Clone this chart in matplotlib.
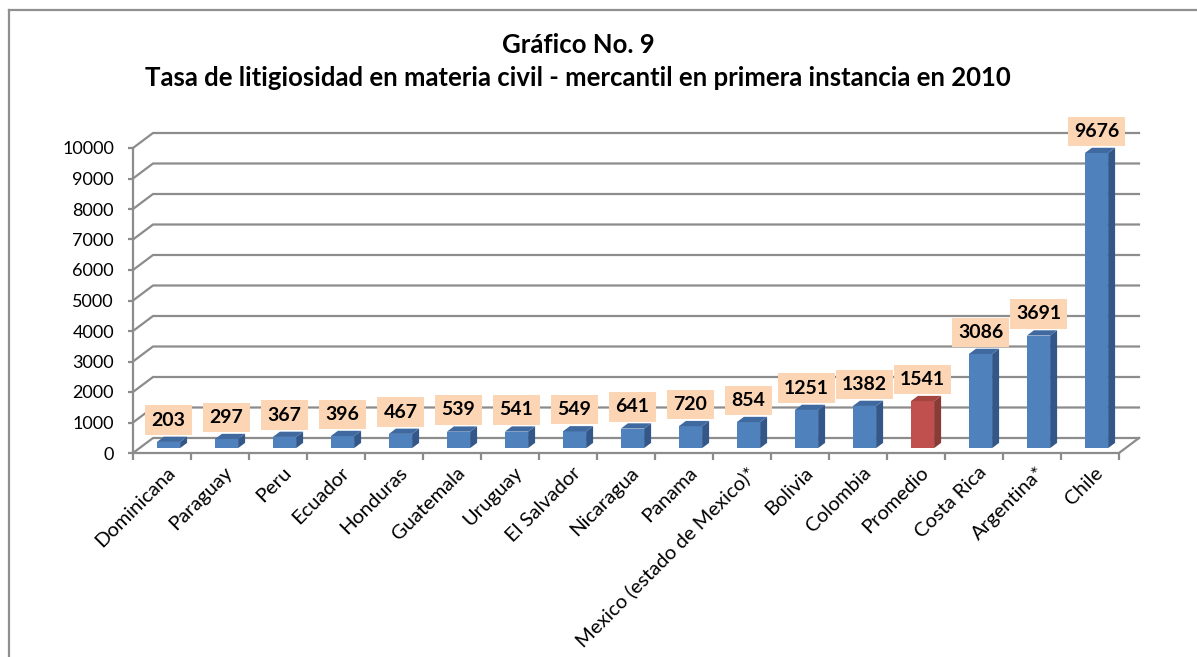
import numpy as np
import matplotlib
matplotlib.use("Agg")
import matplotlib.pyplot as plt
from matplotlib.patches import Polygon, Rectangle
from matplotlib.lines import Line2D

plt.rcParams['font.family'] = ['Lato', 'DejaVu Sans']

# datos del grafico
paises = ['Dominicana', 'Paraguay', 'Peru', 'Ecuador', 'Honduras', 'Guatemala',
          'Uruguay', 'El Salvador', 'Nicaragua', 'Panama',
          'Mexico (estado de Mexico)*', 'Bolivia', 'Colombia', 'Promedio',
          'Costa Rica', 'Argentina*', 'Chile']
tasas = [203, 297, 367, 396, 467, 539, 541, 549, 641, 720, 854, 1251, 1382,
         1541, 3086, 3691, 9676]
destacado = 'Promedio'
yticks = list(range(0, 10001, 1000))

W, H, DPI = 1197, 657, 100
fig = plt.figure(figsize=(W / DPI, H / DPI), dpi=DPI)

# area de trazado (pixeles de la figura)
x0, x1 = 133, 1119
y_top, y_bot = 148, 453
ax = fig.add_axes([x0 / W, (H - y_bot) / H, (x1 - x0) / W, (y_bot - y_top) / H])
n = len(paises)
ax.set_xlim(-0.5, n - 0.5)
ax.set_ylim(0, 10000)

def pt(px):
    return px * 72.0 / DPI

# profundidad 3d en unidades de datos
cx = n / (x1 - x0)
cy = 10000 / (y_bot - y_top)
DX, DY = 20 * cx, 15 * cy

gris = '#8c8c8c'
lw = 1.6

# paredes: lineas de cuadricula
for v in yticks:
    ax.add_line(Line2D([-0.5, -0.5 + DX, n - 0.5 + DX], [v, v + DY, v + DY],
                       color=gris, lw=lw, clip_on=False, zorder=1))
# piso
ax.add_line(Line2D([n - 0.5, n - 0.5 + DX], [0, DY], color=gris, lw=lw,
                   clip_on=False, zorder=1))

for s in ['top', 'right']:
    ax.spines[s].set_visible(False)
for s in ['left', 'bottom']:
    ax.spines[s].set_color(gris)
    ax.spines[s].set_linewidth(lw)
    ax.spines[s].set_zorder(1)

ax.set_yticks(yticks)
ax.set_yticklabels([str(v) for v in yticks], fontsize=13)
ax.set_xticks(np.arange(-0.5, n, 1.0))
ax.set_xticklabels([])
ax.tick_params(axis='y', length=pt(5), width=lw, color=gris, pad=pt(14))
ax.tick_params(axis='x', length=pt(7), width=lw, color=gris)
ax.patch.set_visible(False)

# barras
w = 0.4
f, b = 0.325, 0.675
for i, (p, v) in enumerate(zip(paises, tasas)):
    if p == destacado:
        c_front, c_side, c_top = '#C0504D', '#8A3A37', '#A5443F'
    else:
        c_front, c_side, c_top = '#4F81BD', '#34578A', '#40699F'
    xl = i - w / 2 + f * DX
    xr = i + w / 2 + f * DX
    yb = f * DY
    ax.add_patch(Rectangle((xl, yb), w, v, facecolor=c_front, edgecolor='none',
                           zorder=3, clip_on=False))
    ax.add_patch(Polygon([(xr, yb), (xr + (b - f) * DX, yb + (b - f) * DY),
                          (xr + (b - f) * DX, v + b * DY), (xr, v + yb)],
                         facecolor=c_side, edgecolor='none', zorder=3, clip_on=False))
    ax.add_patch(Polygon([(xl, v + yb), (xr, v + yb),
                          (xr + (b - f) * DX, v + b * DY), (xl + (b - f) * DX, v + b * DY)],
                         facecolor=c_top, edgecolor='none', zorder=3, clip_on=False))
    # etiqueta de valor
    ax.annotate(str(v), (i + f * DX, v + b * DY), xytext=(0, pt(8)),
                textcoords='offset points', ha='center', va='bottom',
                fontsize=14, fontweight='bold', zorder=5, annotation_clip=False,
                bbox=dict(boxstyle='square,pad=0.32', facecolor='#FCD5B5',
                          edgecolor='none'))
    # nombre del pais
    ax.annotate(p, (i, 0), xycoords=('data', 'axes fraction'),
                xytext=(pt(4), -pt(11)), textcoords='offset points',
                ha='right', va='top', rotation=45, rotation_mode='anchor',
                fontsize=14.5, annotation_clip=False)

# titulo
fig.text(578 / W, 1 - 45 / H, 'Gráfico No. 9', ha='center', va='center',
         fontsize=18.5, fontweight='bold')
fig.text(578 / W, 1 - 78 / H,
         'Tasa de litigiosidad en materia civil - mercantil en primera instancia en 2010',
         ha='center', va='center', fontsize=18.5, fontweight='bold')

# marco
fig.add_artist(Line2D([9 / W, 9 / W], [0, 1 - 10 / H], transform=fig.transFigure,
                      color='#909090', lw=1.6))
fig.add_artist(Line2D([9 / W, 1], [1 - 10 / H, 1 - 10 / H], transform=fig.transFigure,
                      color='#909090', lw=1.6))

fig.savefig('out.png', dpi=DPI)
